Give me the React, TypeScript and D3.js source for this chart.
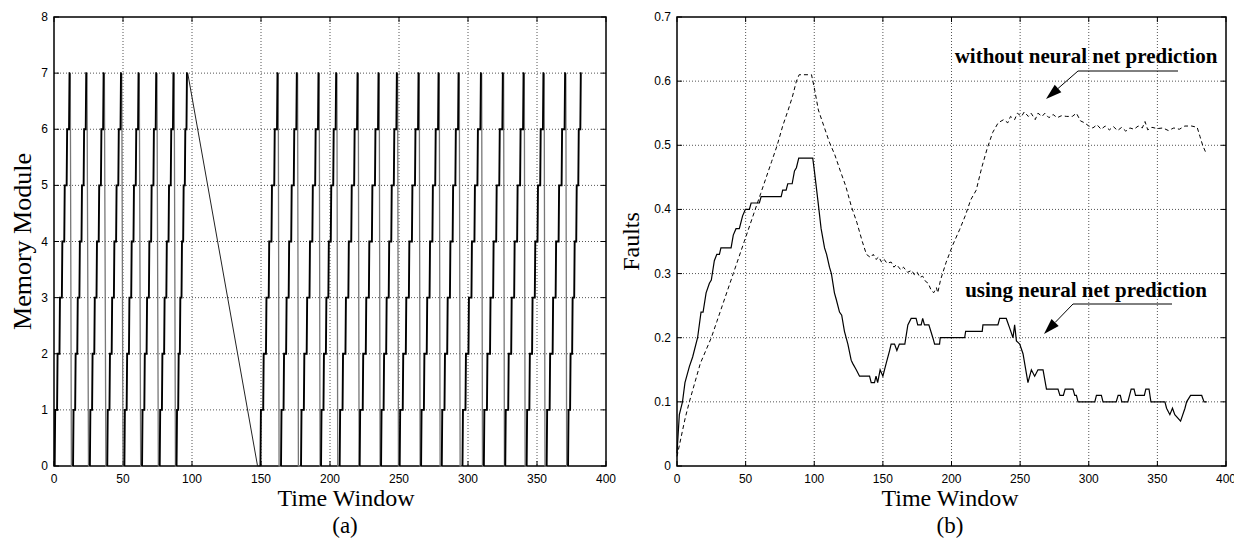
import React from "react";
import * as d3 from "d3";

// ---- panel (a): memory module accessed per time window ----
// each cycle climbs module 0 -> 7, then drops back to 0
const cycleStart = [0.5, 13.8, 26.0, 38.6, 51.0, 63.8, 76.6, 88.8,
  149.6, 164.5, 179, 193.5, 207, 221.5, 237, 250.5, 266, 281, 296, 311.5, 327, 342.5, 357, 372.5];
const cyclePeak = [10.9, 23.0, 35.6, 48.2, 60.9, 73.7, 86.2, 96.0,
  161.6, 175.6, 191.3, 204.1, 219.6, 234.8, 248.1, 263.8, 278.3, 292.8, 309, 324.9, 339.9, 354.3, 370, 381.4];
const cycleEnd: (number | null)[] = [12.6, 25.0, 37.6, 50.0, 62.8, 75.6, 88.0, 147.5,
  163.1, 177.1, 192.8, 205.6, 221.1, 236.3, 249.6, 265.3, 279.8, 294.3, 310.5, 326.4, 341.4, 355.8, 371.5, null];
const moduleTicks = [0, 1, 2, 3, 4, 5, 6, 7, 8];
const timeTicks = [0, 50, 100, 150, 200, 250, 300, 350, 400];

// ---- panel (b): faults over time ----
const faultTicks = [0, 0.1, 0.2, 0.3, 0.4, 0.5, 0.6, 0.7];
const withoutPrediction: [number, number][] = [
  [0, 0.015], [3, 0.045], [6, 0.075], [9, 0.1], [13, 0.13], [17, 0.16], [21, 0.18], [25, 0.2],
  [29, 0.225], [33, 0.25], [37, 0.275], [41, 0.3], [45, 0.325], [49, 0.35], [53, 0.375], [57, 0.4],
  [61, 0.425], [65, 0.45], [69, 0.475], [73, 0.5], [77, 0.53], [81, 0.555], [84, 0.575], [87, 0.6],
  [89, 0.61], [98, 0.61], [100, 0.59], [103, 0.555], [107, 0.53], [111, 0.505], [115, 0.485],
  [119, 0.46], [123, 0.436], [127, 0.405], [131, 0.38], [135, 0.35], [138, 0.33], [141, 0.325],
  [143, 0.33], [145, 0.322], [147, 0.326], [149, 0.318], [151, 0.322], [153, 0.316], [156, 0.318],
  [158, 0.31], [160, 0.314], [163, 0.306], [165, 0.31], [168, 0.302], [171, 0.305], [173, 0.298],
  [175, 0.302], [177, 0.294], [179, 0.296], [181, 0.288], [183, 0.285], [185, 0.275], [187, 0.27],
  [189, 0.278], [190, 0.27], [192, 0.29], [196, 0.317], [201, 0.345], [206, 0.369], [210, 0.39],
  [214, 0.415], [218, 0.43], [222, 0.465], [226, 0.495], [230, 0.52], [234, 0.535], [238, 0.54],
  [241, 0.535], [243, 0.545], [246, 0.54], [248, 0.55], [251, 0.545], [253, 0.552], [256, 0.545],
  [258, 0.55], [261, 0.54], [263, 0.55], [266, 0.545], [268, 0.55], [271, 0.543], [274, 0.548],
  [277, 0.543], [280, 0.546], [284, 0.545], [288, 0.545], [291, 0.55], [294, 0.538], [297, 0.535],
  [300, 0.53], [303, 0.527], [306, 0.532], [309, 0.525], [312, 0.53], [315, 0.524], [318, 0.529],
  [321, 0.523], [324, 0.528], [327, 0.522], [330, 0.527], [333, 0.525], [336, 0.53], [339, 0.527],
  [341, 0.537], [343, 0.524], [346, 0.528], [350, 0.526], [354, 0.527], [358, 0.523], [362, 0.527],
  [366, 0.525], [370, 0.53], [375, 0.53], [379, 0.528], [381, 0.514], [383, 0.5], [385, 0.49],
];
const usingPrediction: [number, number][] = [
  [0, 0.02], [1.7, 0.08], [4, 0.1], [5.8, 0.13], [9, 0.155], [11.4, 0.17], [15, 0.2], [17.5, 0.24],
  [19, 0.24], [21.2, 0.27], [23.6, 0.285], [25, 0.29], [27.2, 0.32], [29, 0.33], [30.9, 0.33],
  [32, 0.34], [33.3, 0.34], [39.4, 0.34], [41, 0.36], [43, 0.37], [45.4, 0.37], [47.8, 0.39],
  [49.8, 0.4], [52.7, 0.4], [54, 0.41], [60, 0.41], [61.3, 0.42], [75.9, 0.42], [77, 0.43],
  [79.5, 0.43], [80.7, 0.44], [83.9, 0.44], [85.6, 0.46], [87, 0.465], [88.7, 0.48], [98.9, 0.48],
  [100.1, 0.46], [102.6, 0.415], [105, 0.37], [107.5, 0.34], [109, 0.33], [111.1, 0.31],
  [112.5, 0.3], [114.7, 0.27], [116, 0.26], [118.4, 0.24], [120, 0.235], [122, 0.21], [124.5, 0.19],
  [126.9, 0.165], [128, 0.16], [130.6, 0.15], [133, 0.14], [140.3, 0.14], [141.5, 0.13],
  [143.9, 0.13], [145, 0.14], [146.2, 0.13], [148, 0.15], [150, 0.14], [152.4, 0.16], [154.9, 0.18],
  [156, 0.19], [158.5, 0.19], [160.2, 0.18], [162, 0.19], [166, 0.19], [168.2, 0.22], [170.6, 0.23],
  [174.2, 0.23], [175.4, 0.22], [177.9, 0.22], [179, 0.23], [180.3, 0.22], [183.5, 0.22],
  [186.4, 0.2], [187.7, 0.19], [191.3, 0.19], [191.8, 0.2], [209.6, 0.2], [210.3, 0.21],
  [222.4, 0.21], [222.9, 0.22], [233.8, 0.22], [235.1, 0.23], [239.9, 0.23], [242.4, 0.215],
  [244.8, 0.2], [246, 0.22], [247.3, 0.195], [249.7, 0.19], [252.1, 0.175], [255.7, 0.13],
  [258.2, 0.15], [260.6, 0.14], [263, 0.15], [266.7, 0.15], [269.2, 0.12], [277.6, 0.12],
  [279, 0.11], [281.5, 0.11], [282.8, 0.12], [288.5, 0.12], [289.8, 0.11], [291, 0.11],
  [292.2, 0.1], [304.4, 0.1], [305.6, 0.11], [309.2, 0.11], [310.4, 0.1], [320, 0.1], [321.4, 0.11],
  [323, 0.11], [324.1, 0.1], [328.5, 0.1], [330.9, 0.12], [333, 0.12], [334.1, 0.11], [340.5, 0.11],
  [341.6, 0.12], [343.9, 0.12], [345.3, 0.1], [355.5, 0.1], [356.7, 0.09], [359.1, 0.08],
  [361, 0.09], [362.7, 0.08], [366.9, 0.07], [370.1, 0.09], [371.3, 0.1], [374.2, 0.11],
  [382.3, 0.11], [384, 0.1], [386, 0.1],
];

const serif = "'Liberation Serif', 'Times New Roman', serif";
const sans = "'Liberation Sans', Arial, Helvetica, sans-serif";

type Box = { l: number; r: number; t: number; b: number };

function Frame({ box, x, y, xTicks, yTicks, yFmt }: any) {
  const tick = 5;
  return (
    <g>
      {/* dotted grid */}
      {xTicks.slice(1, -1).map((t: number) => (
        <line key={"gx" + t} x1={x(t)} x2={x(t)} y1={box.t} y2={box.b}
          stroke="#555" strokeWidth={1} strokeDasharray="1 2" />
      ))}
      {yTicks.slice(1, -1).map((t: number) => (
        <line key={"gy" + t} x1={box.l} x2={box.r} y1={y(t)} y2={y(t)}
          stroke="#555" strokeWidth={1} strokeDasharray="1 2" />
      ))}
      {/* inward ticks on all sides */}
      {xTicks.map((t: number) => (
        <g key={"tx" + t}>
          <line x1={x(t)} x2={x(t)} y1={box.b} y2={box.b - tick} stroke="#000" />
          <line x1={x(t)} x2={x(t)} y1={box.t} y2={box.t + tick} stroke="#000" />
          <text x={x(t)} y={box.b + 17} textAnchor="middle" fontFamily={sans} fontSize={12}>{t}</text>
        </g>
      ))}
      {yTicks.map((t: number) => (
        <g key={"ty" + t}>
          <line x1={box.l} x2={box.l + tick} y1={y(t)} y2={y(t)} stroke="#000" />
          <line x1={box.r} x2={box.r - tick} y1={y(t)} y2={y(t)} stroke="#000" />
          <text x={box.l - 6} y={y(t) + 4} textAnchor="end" fontFamily={sans} fontSize={12}>{yFmt(t)}</text>
        </g>
      ))}
      <rect x={box.l} y={box.t} width={box.r - box.l} height={box.b - box.t}
        fill="none" stroke="#000" strokeWidth={1.5} />
    </g>
  );
}

function Callout({ label, tx, ty, lineY, lineX0, lineX1, tipX, tipY }: any) {
  // horizontal underline + slanted arrow ending in a filled head
  const ang = Math.atan2(tipY - lineY, tipX - lineX0);
  const len = 16, half = 5;
  const bx = tipX - len * Math.cos(ang), by = tipY - len * Math.sin(ang);
  const px = -Math.sin(ang) * half, py = Math.cos(ang) * half;
  return (
    <g>
      <text x={tx} y={ty} textAnchor="middle" fontFamily={serif} fontWeight="bold" fontSize={21}>{label}</text>
      <polyline points={`${lineX1},${lineY} ${lineX0},${lineY} ${bx},${by}`} fill="none" stroke="#000" strokeWidth={1} />
      <polygon points={`${tipX},${tipY} ${bx + px},${by + py} ${bx - px},${by - py}`} fill="#000" />
    </g>
  );
}

export default function App() {
  const boxA: Box = { l: 54, r: 606, t: 17, b: 466 };
  const boxB: Box = { l: 677, r: 1226, t: 17, b: 466 };

  const xA = d3.scaleLinear().domain([0, 400]).range([boxA.l, boxA.r]);
  const yA = d3.scaleLinear().domain([0, 8]).range([boxA.b, boxA.t]);
  const xB = d3.scaleLinear().domain([0, 400]).range([boxB.l, boxB.r]);
  const yB = d3.scaleLinear().domain([0, 0.7]).range([boxB.b, boxB.t]);

  const lineA = d3.line<[number, number]>().x((d) => xA(d[0])).y((d) => yA(d[1]));
  const lineB = d3.line<[number, number]>().x((d) => xB(d[0])).y((d) => yB(d[1]));

  // staircase of each cycle: one module step per equal slice between start and peak
  const stairs = cycleStart.map((s, i) => {
    const p = cyclePeak[i];
    const pts: [number, number][] = [[s, 0]];
    for (let k = 1; k <= 7; k++) {
      const r = s + ((k - 1) * (p - s)) / 6;
      pts.push([r, k - 1]);
      pts.push([r + 0.35, k]);
    }
    pts.push([p + 0.9, 7]);
    return pts;
  });
  const drops = cycleStart.map((s, i) => {
    const e = cycleEnd[i];
    if (e == null) return null;
    const pts: [number, number][] = [[cyclePeak[i] + 0.9, 7], [e, 0]];
    if (i + 1 < cycleStart.length) pts.push([cycleStart[i + 1], 0]);
    return { pts, long: e - cyclePeak[i] > 5 };
  });

  return (
    <svg width={1242} height={546} style={{ display: "block", margin: "-8px", background: "#fff" }}>
      <rect width={1242} height={546} fill="#fff" />

      {/* ---------- (a) ---------- */}
      <Frame box={boxA} x={xA} y={yA} xTicks={timeTicks} yTicks={moduleTicks} yFmt={(t: number) => String(t)} />
      {drops.map((d, i) =>
        d ? (
          <path key={"d" + i} d={lineA(d.pts) as string} fill="none"
            stroke={d.long ? "#222" : "#777"} strokeWidth={d.long ? 1 : 1.3} />
        ) : null
      )}
      {stairs.map((pts, i) => (
        <path key={"s" + i} d={lineA(pts) as string} fill="none" stroke="#000" strokeWidth={1.9} />
      ))}
      <text transform={`translate(31,${(boxA.t + boxA.b) / 2}) rotate(-90)`} textAnchor="middle"
        fontFamily={serif} fontSize={26}>Memory Module</text>
      <text x={346} y={506} textAnchor="middle" fontFamily={serif} fontSize={24}>Time Window</text>
      <text x={345} y={533} textAnchor="middle" fontFamily={serif} fontSize={23}>(a)</text>

      {/* ---------- (b) ---------- */}
      <Frame box={boxB} x={xB} y={yB} xTicks={timeTicks} yTicks={faultTicks}
        yFmt={(t: number) => (t === 0 ? "0" : d3.format(".1f")(t))} />
      <path d={lineB(withoutPrediction) as string} fill="none" stroke="#000" strokeWidth={1} strokeDasharray="4 3" />
      <path d={lineB(usingPrediction) as string} fill="none" stroke="#000" strokeWidth={1.2} />
      <Callout label="without neural net prediction" tx={1086} ty={63}
        lineY={71} lineX0={1078} lineX1={1178} tipX={1046} tipY={99} />
      <Callout label="using neural net prediction" tx={1086} ty={297}
        lineY={304} lineX0={1073} lineX1={1172} tipX={1044} tipY={334} />
      <text transform={`translate(639,${(boxB.t + boxB.b) / 2}) rotate(-90)`} textAnchor="middle"
        fontFamily={serif} fontSize={24}>Faults</text>
      <text x={950} y={506} textAnchor="middle" fontFamily={serif} fontSize={24}>Time Window</text>
      <text x={950} y={533} textAnchor="middle" fontFamily={serif} fontSize={23}>(b)</text>
    </svg>
  );
}
